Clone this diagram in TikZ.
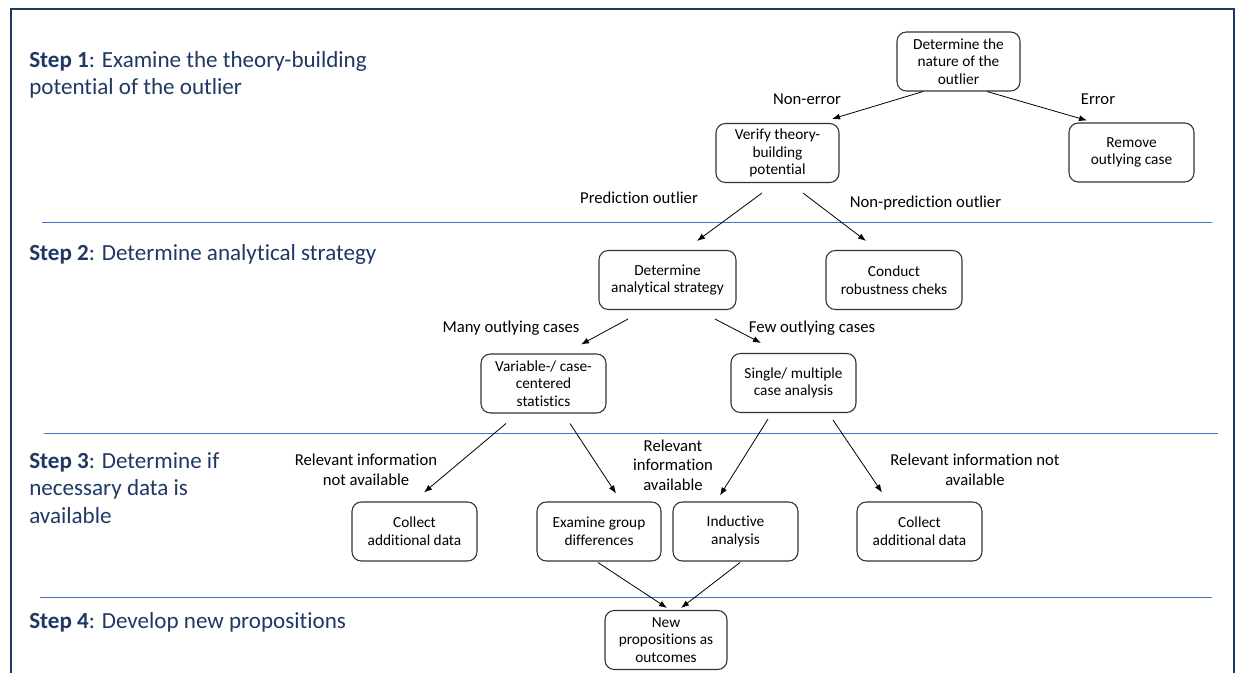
\documentclass[tikz,border=0pt]{standalone}
\usepackage{fontspec}
\setmainfont{Carlito}[Ligatures=NoCommon]
\usetikzlibrary{arrows.meta, calc}

\definecolor{stepblue}{RGB}{31,56,100}
\definecolor{lineblue}{RGB}{68,114,196}

\def\px{0.75pt}

\tikzset{
	box/.style = {draw=black!80, line width=0.8pt, rounded corners=7pt, align=center, inner sep=0pt,
		minimum width=124*\px, minimum height=59*\px, font=\fontsize{11.5}{13.2}\selectfont},
	branch/.style = {align=center, font=\fontsize{12.5}{14.6}\selectfont},
	steptitle/.style = {anchor=base west, align=left, inner sep=0pt, text=stepblue, font=\fontsize{17.3}{20.3}\selectfont},
	arr/.style = {-{Latex[length=6pt, width=4.5pt]}, line width=0.6pt},
	sep/.style = {draw=lineblue, line width=0.75pt},
}

\begin{document}
\begin{tikzpicture}[x=0.75pt, y=-0.75pt]
	\useasboundingbox (0,0) rectangle (1235,673);

	% frame and step separators
	\draw [stepblue, line width=1.5pt] (11,673) -- (11,9) -- (1234,9) -- (1234,673);
	\draw [sep] (42,223) -- (1212,223);
	\draw [sep] (44,433) -- (1218,433);
	\draw [sep] (40,597) -- (1212,597);

	% step titles (base is the last line)
	\node [steptitle] (step1) at (29,95) {\textbf{Step 1}: Examine the theory-building\\potential of the outlier};
	\node [steptitle] (step2) at (29,261) {\textbf{Step 2}: Determine analytical strategy};
	\node [steptitle] (step3) at (29,523) {\textbf{Step 3}: Determine if\\necessary data is\\available};
	\node [steptitle] (step4) at (29,628) {\textbf{Step 4}: Develop new propositions};

	% boxes
	\node [box, minimum width=123*\px] (nature) at (958.5,61.5) {Determine the\\nature of the\\outlier};
	\node [box, minimum width=123*\px] (verify) at (777.5,153) {Verify theory-\\building\\potential};
	\node [box, minimum width=125*\px] (remove) at (1131.5,152.5) {Remove\\outlying case};
	\node [box, minimum width=137*\px] (strategy) at (667.5,280) {Determine\\analytical strategy};
	\node [box, minimum width=136*\px] (robust) at (894,280) {Conduct\\robustness cheks};
	\node [box, minimum width=125*\px] (varstat) at (543.5,383.5) {Variable-/ case-\\centered\\statistics};
	\node [box, minimum width=125*\px] (casean) at (793.5,383) {Single/ multiple\\case analysis};
	\node [box, minimum width=125*\px] (collectA) at (414.5,531.5) {Collect\\additional data};
	\node [box] (groupdiff) at (599,531.5) {Examine group\\differences};
	\node [box, minimum width=125*\px] (inductive) at (735.5,531.5) {Inductive\\analysis};
	\node [box, minimum width=125*\px] (collectB) at (919.5,531.5) {Collect\\additional data};
	\node [box, minimum width=122*\px] (newprop) at (666,640) {New\\propositions as\\outcomes};

	% branch labels
	\node [branch] (lnonerr) at (807,99) {Non-error};
	\node [branch] (lerr) at (1098,99) {Error};
	\node [branch] (lpred) at (639,198) {Prediction outlier};
	\node [branch] (lnonpred) at (925.5,203) {Non-prediction outlier};
	\node [branch] (lmany) at (511,328) {Many outlying cases};
	\node [branch] (lfew) at (812,328) {Few outlying cases};
	\node [branch] (lnotA) at (366,470) {Relevant information\\not available};
	\node [branch] (lavail) at (673,465) {Relevant\\information\\available};
	\node [branch] (lnotB) at (975,470) {Relevant information not\\available};

	% connectors
	\draw [arr] ($(nature.south)+(-35.5,0)$) -- ($(verify.north)+(54.5,-4)$);
	\draw [arr] ($(nature.south)+(28.5,0)$) -- ($(remove.north)+(-44.5,-2)$);
	\draw [arr] ($(verify.south)+(-15.5,10)$) -- ($(strategy.north)+(29.5,-9)$);
	\draw [arr] ($(verify.south)+(25.5,10)$) -- ($(robust.north)+(-28,-9)$);
	\draw [arr] ($(strategy.south)+(-39.5,9)$) -- ($(varstat.north)+(37.5,-9)$);
	\draw [arr] ($(strategy.south)+(47.5,9)$) -- ($(casean.north)+(-32.5,-10)$);
	\draw [arr] ($(varstat.south)+(-37.5,10)$) -- ($(collectA.north)+(9.5,-9)$);
	\draw [arr] ($(varstat.south)+(26.5,10)$) -- ($(groupdiff.north)+(17,-8)$);
	\draw [arr] ($(casean.south)+(-25.5,6)$) -- ($(inductive.north)+(-15.5,-6)$);
	\draw [arr] ($(casean.south)+(39.5,7)$) -- ($(collectB.north)+(-37.5,-9)$);
	\draw [arr] ($(groupdiff.south)+(-1,1)$) -- ($(newprop.north)+(1,-2)$);
	\draw [arr] ($(inductive.south)+(4.5,1)$) -- ($(newprop.north)+(15,-2)$);
\end{tikzpicture}
\end{document}
